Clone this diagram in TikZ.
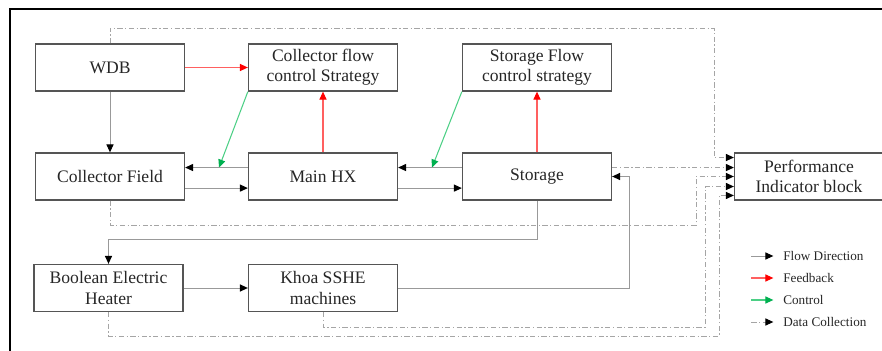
\documentclass[tikz,border=0pt]{standalone}
\usepackage{fontspec}
\setmainfont{Liberation Serif}
\usetikzlibrary{arrows.meta}
\definecolor{boxgray}{HTML}{555555}
\definecolor{linegray}{HTML}{999999}
\definecolor{datagray}{HTML}{A5A5A5}
\definecolor{fbred}{HTML}{FF6060}
\definecolor{ctlgreen}{HTML}{4CCF85}
\definecolor{tipgreen}{HTML}{00B050}
\tikzstyle{blk}=[draw=boxgray,line width=0.75pt,minimum width=2.98cm,minimum height=0.94cm,inner sep=1pt,align=center,font=\fontsize{10}{11.5}\selectfont,text=black!85]
\tikzstyle{flow}=[draw=linegray,line width=0.55pt,-{Triangle[length=4.5pt,width=4pt,color=black]}]
\tikzstyle{feedback}=[draw=fbred,line width=0.6pt,-{Triangle[length=4.5pt,width=4pt,color=red]}]
\tikzstyle{control}=[draw=ctlgreen,line width=0.6pt,-{Triangle[length=4.5pt,width=4pt,color=tipgreen]}]
\tikzstyle{datac}=[draw=datagray,line width=0.55pt,dash pattern=on 3pt off 1.4pt on 0.7pt off 1.4pt,-{Triangle[length=4.5pt,width=4pt,color=black]}]
\tikzstyle{legtxt}=[anchor=west,inner sep=0pt,font=\fontsize{7.5}{9}\selectfont,text=black!85]

\begin{document}
\begin{tikzpicture}[x=0.02cm,y=-0.02cm]
\useasboundingbox (0,0) rectangle (882,351);
\draw[line width=1.1pt] (10,351) -- (10,9) -- (882,9);

\node[blk] at (110, 67.5) (wdb) {WDB};
\node[blk] at (323, 67.5) (cfs) {Collector flow\\control Strategy};
\node[blk] at (537, 67.5) (sfs) {Storage Flow\\control strategy};
\node[blk] at (110, 176.5) (cf) {Collector Field};
\node[blk] at (323, 176.5) (hx) {Main HX};
\node[blk] at (537, 176.5) (sto) {Storage};
\node[blk] at (809, 176.5) (pib) {Performance\\Indicator block};
\node[blk] at (108.5, 288) (beh) {Boolean Electric\\Heater};
\node[blk] at (323, 288) (sshe) {Khoa SSHE\\machines};

\coordinate (cfx) at (219, 167.5);
\coordinate (sfx) at (432, 167.5);
\coordinate (ret) at (537, 239);
\coordinate (back) at (629, 288);
\coordinate (top) at (714, 28);
\coordinate (c3) at (696, 225);
\coordinate (c4) at (705, 327);
\coordinate (c5) at (719, 336);

\draw[feedback] (wdb) -- (cfs);
\draw[flow] (wdb) -- (cf);
\draw[feedback] (hx) -- (cfs);
\draw[feedback] (sto) -- (sfs);
\draw[control] (cfs.south west) -- (cfx);
\draw[control] (sfs.south west) -- (sfx);

\draw[flow] ([yshift=5.1pt]hx.west) -- ([yshift=5.1pt]cf.east);
\draw[flow] ([yshift=-6.6pt]cf.east) -- ([yshift=-6.6pt]hx.west);
\draw[flow] ([yshift=5.1pt]sto.west) -- ([yshift=5.1pt]hx.east);
\draw[flow] ([yshift=-6.6pt]hx.east) -- ([yshift=-6.6pt]sto.west);
\draw[flow] (sto.south) -- (ret) -| (beh.north);
\draw[flow] (beh) -- (sshe);
\draw[flow] (sshe.east) -- (back) |- (sto.east);

% data collection
\draw[datac] (wdb.north) |- (top) |- ([yshift=10.8pt]pib.west);
\draw[datac] ([yshift=5.1pt]sto.east) -- ([yshift=5.1pt]pib.west);
\draw[datac] (cf.south) |- (c3) |- (pib.west);
\draw[datac] (sshe.south) |- (c4) |- ([yshift=-5.7pt]pib.west);
\draw[datac] (beh.south) |- (c5) |- ([yshift=-10.8pt]pib.west);

% legend
\node[legtxt] at (783, 256) (lg1) {Flow Direction};
\node[legtxt] at (783, 278) (lg2) {Feedback};
\node[legtxt] at (783, 300) (lg3) {Control};
\node[legtxt] at (783, 322) (lg4) {Data Collection};
\draw[flow] ([xshift=-18pt]lg1.west) -- ([xshift=-5.5pt]lg1.west);
\draw[feedback] ([xshift=-18pt]lg2.west) -- ([xshift=-5.5pt]lg2.west);
\draw[control] ([xshift=-18pt]lg3.west) -- ([xshift=-5.5pt]lg3.west);
\draw[datac] ([xshift=-18pt]lg4.west) -- ([xshift=-5.5pt]lg4.west);

\end{tikzpicture}
\end{document}
